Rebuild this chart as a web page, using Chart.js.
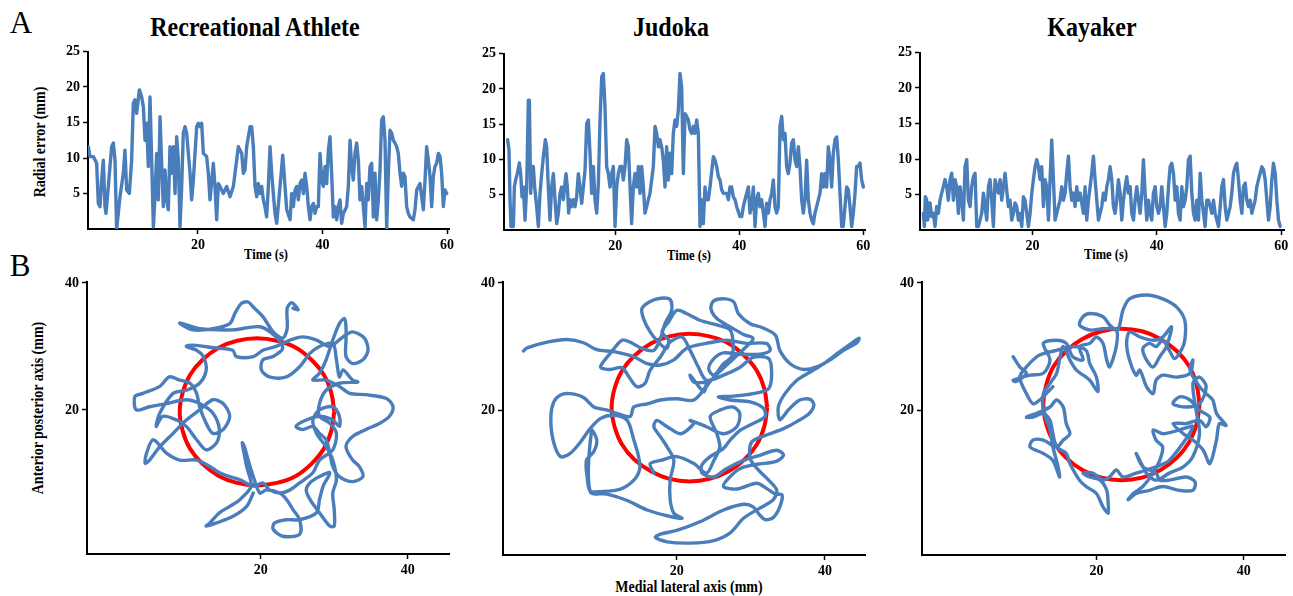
<!DOCTYPE html>
<html><head><meta charset="utf-8">
<script src="https://cdn.jsdelivr.net/npm/chart.js@4.4.1/dist/chart.umd.min.js"></script>
<style>
html,body{margin:0;padding:0;background:#fff;}
body{width:1293px;height:596px;position:relative;overflow:hidden;}
canvas{position:absolute;}
.t{position:absolute;white-space:nowrap;font-family:"Liberation Serif","Times New Roman",serif;color:#000;line-height:1;transform:translate(-50%,-50%);}
.b{font-weight:bold;}
.tt{transform:translate(-50%,-50%) scaleY(1.12);}
.rot{transform:translate(-50%,-50%) rotate(-90deg) scaleY(1.12);}
</style></head><body>
<div class="t" style="left:21px;top:22px;font-size:31px">A</div>
<div class="t" style="left:20px;top:265px;font-size:31px">B</div>
<div class="t b tt" style="left:255px;top:27px;font-size:24px">Recreational Athlete</div>
<div class="t b tt" style="left:671px;top:27px;font-size:24px">Judoka</div>
<div class="t b tt" style="left:1092px;top:27px;font-size:24px">Kayaker</div>
<div class="t b rot" style="left:41px;top:142px;font-size:14px">Radial error (mm)</div>
<div class="t b tt" style="left:266px;top:255px;font-size:12.5px">Time (s)</div>
<div class="t b tt" style="left:689px;top:256px;font-size:12.5px">Time (s)</div>
<div class="t b tt" style="left:1106px;top:255px;font-size:12.5px">Time (s)</div>
<div class="t b rot" style="left:39px;top:408px;font-size:14px">Anterior posterior axis (mm)</div>
<div class="t b tt" style="left:689px;top:588px;font-size:14px">Medial lateral axis (mm)</div>
<canvas id="c1" width="460" height="230" style="left:0;top:40px"></canvas>
<canvas id="c2" width="420" height="230" style="left:460px;top:40px"></canvas>
<canvas id="c3" width="413" height="230" style="left:880px;top:40px"></canvas>
<canvas id="c4" width="460" height="326" style="left:0;top:270px"></canvas>
<canvas id="c5" width="420" height="326" style="left:460px;top:270px"></canvas>
<canvas id="c6" width="413" height="326" style="left:880px;top:270px"></canvas>
<script>
// ---------- tick labels ----------
const timeTicks = [20, 40, 60];
const errorTicks = [5, 10, 15, 20, 25];
const posTicks = [20, 40];

// ---------- A: radial error time series ----------
const recTime = [2.38,2.65,3.19,3.72,3.99,4.26,4.52,4.79,5.06,5.22,5.60,5.86,6.13,6.40,6.67,6.93,7.20,7.47,8.00,8.27,8.54,8.97,9.34,9.61,9.88,10.15,10.58,10.95,11.22,11.49,11.75,12.02,12.29,12.56,12.83,13.09,13.36,13.63,13.90,14.16,14.43,14.70,14.97,15.23,15.50,15.77,16.04,16.31,16.57,16.84,17.11,17.38,17.64,17.91,18.18,18.72,18.98,19.25,19.79,20.05,20.32,20.59,20.86,21.39,21.66,21.93,22.46,22.73,23.00,23.27,23.53,23.80,24.07,24.61,25.14,25.68,26.21,26.48,27.02,27.29,27.55,27.82,28.36,28.62,28.89,29.16,29.43,29.69,29.96,30.23,30.50,30.76,31.03,31.30,31.57,31.84,32.10,32.37,32.64,33.18,33.61,33.98,34.25,34.79,35.05,35.32,35.59,35.86,36.12,36.39,36.66,36.93,37.19,37.46,37.73,38.00,38.26,38.53,38.80,39.06,39.33,39.60,39.87,40.13,40.40,40.67,40.94,41.20,41.47,41.74,42.01,42.28,42.54,42.81,43.08,43.35,43.88,44.15,44.42,44.69,44.95,45.22,45.49,45.76,46.02,46.29,46.83,47.10,47.36,47.63,47.90,48.17,48.43,48.70,48.97,49.24,49.50,49.77,50.04,50.31,50.58,50.84,51.11,51.38,51.65,51.91,52.18,52.45,52.72,52.99,53.25,53.52,53.79,54.06,54.59,54.86,55.13,55.66,55.93,56.20,56.47,56.73,57.00,57.27,57.54,57.80,58.07,58.34,58.61,58.88,59.14,59.41,59.68,59.95];
const recError = [11.6,10.2,10.2,9.25,3.6,3.15,6.9,9.7,3.15,2.2, 6.0,8.8,11.6,12.1,9.7,0,2.2,4.55,7.85,11.1, 5.5,5.0,9.7,17.7,18.2,16.3,19.6,18.6,17.2,12.5, 14.9,8.8,18.6,9.7,0.3,4.55,10.65,4.1,15.8,9.25, 3.15,8.3,4.1,2.7,11.6,7.85,11.6,5.0,13.0,9.7, 0.3,6.0,13.5,14.4,13.5,7.85,4.1,6.9,14.4,14.9, 14.4,14.9,10.65,10.2,7.85,4.1,9.25,6.0,1.3,6.4, 6.0,5.5,5.0,6.0,4.55,6.0,9.7,11.6,10.65,7.85, 8.3,11.6,14.4,14.4,11.6,6.0,4.55,6.4,5.0,6.0, 4.1,3.15,1.7,6.0,11.6,7.85,5.0,2.2,0.8,6.0, 10.4,6.0,2.7,1.3,5.0,3.15,5.5,6.0,4.1,6.4, 6.9,5.0,7.85,6.0,3.15,1.3,3.15,3.6,2.2,3.15, 3.15,10.65,6.9,6.0,8.8,6.4,11.1,13.0,7.85,1.7, 3.15,1.3,3.15,4.1,0.8,2.2,3.15,6.0,12.5,8.8, 6.9,10.65,12.1,9.7,4.1,6.0,0.3,6.4,4.1,8.8, 9.25,1.7,7.85,1.3,4.1,8.3,15.35,15.8,12.5,0, 7.85,13.9,13.5,12.5,12.1,11.6,10.65,7.85,6.0,7.85, 7.4,3.15,2.2,1.7,1.3,2.7,5.5,6.4,4.55,2.7, 6.9,11.6,9.7,7.4,3.15,7.4,8.8,9.25,10.65,10.2, 7.85,3.15,5.5,5.0];

const judTime = [2.63,2.85,3.01,3.17,3.55,3.71,3.92,4.19,4.52,4.73,4.95,5.16,5.43,5.70,5.97,6.13,6.34,6.56,6.77,6.99,7.31,7.58,7.85,8.12,8.39,8.71,8.92,9.19,9.46,9.73,10.00,10.27,10.54,10.81,11.08,11.34,11.61,12.04,12.26,12.47,12.69,12.96,13.23,13.49,13.76,14.03,14.30,14.57,14.84,15.11,15.38,15.65,15.91,16.18,16.45,16.72,16.99,17.26,17.53,17.80,18.06,18.33,18.60,18.87,19.14,19.41,19.68,19.95,20.22,20.48,20.75,21.02,21.29,21.56,21.83,22.10,22.37,22.63,22.90,23.17,23.44,23.71,23.98,24.25,24.52,24.78,25.05,25.32,25.59,26.13,26.40,26.67,26.94,27.20,27.47,27.74,28.01,28.28,28.55,28.82,29.09,29.35,29.62,29.89,30.16,30.43,30.70,30.97,31.24,31.51,31.77,32.04,32.31,32.58,32.85,33.12,33.39,33.66,33.92,34.19,34.46,34.73,35.00,35.27,35.81,36.08,36.34,36.61,36.88,37.15,37.42,37.96,38.23,38.49,38.76,39.03,39.30,39.57,40.11,40.38,40.65,40.91,41.18,41.45,41.72,41.99,42.26,42.53,42.80,43.06,43.33,43.60,43.87,44.14,44.41,44.68,44.95,45.22,45.48,45.75,46.02,46.29,46.56,46.83,47.10,47.37,47.63,47.90,48.17,48.44,48.71,48.98,49.25,49.52,49.78,50.05,50.32,50.59,50.86,51.13,51.40,51.67,51.94,52.20,52.47,52.74,53.01,53.28,53.55,53.82,54.09,54.35,54.62,54.89,55.16,55.43,55.70,55.97,56.24,56.51,56.77,57.04,57.31,57.58,57.85,58.12,58.39,58.66,58.92,59.19,59.46,59.73,60.00];
const judError = [12.8,11.3,4.3,0.5,0.5,6.1,7.1,8.0,9.5,8.0,4.7,6.1,1.4,6.1,18.4,18.4,5.2,8.0,9.0,6.1,3.3,0.5,5.2,8.0,10.4,12.8,11.8,6.1,1.4,6.1,8.0,4.3,0.9,2.4,5.2,6.1,4.3,8.0,6.1,2.4,4.3,3.3,4.3,3.3,4.7,8.0,6.1,3.8,6.1,8.5,15.1,15.6,10.9,5.2,9.0,4.3,2.4,6.6,15.6,21.7,22.2,17.5,9.0,8.0,6.1,8.0,9.0,0.5,6.1,8.0,9.0,9.0,7.1,9.0,12.8,11.8,6.1,0.9,6.1,8.0,6.1,9.0,5.2,9.0,6.1,2.4,3.3,4.3,5.2,9.0,14.7,13.7,11.8,12.8,11.8,9.9,6.1,11.8,7.1,10.9,8.0,13.7,15.6,14.7,17.0,22.2,20.3,8.0,16.5,16.1,15.6,14.2,13.7,14.7,13.7,15.6,13.7,0.5,4.3,0.9,6.1,4.3,4.3,6.1,10.4,9.9,9.0,7.6,7.1,5.7,5.2,5.2,4.3,6.1,6.1,4.7,4.3,3.3,1.9,1.9,3.3,4.3,5.2,6.1,2.4,3.3,6.1,0.5,4.3,5.2,3.3,4.3,2.4,0.5,3.8,2.4,4.3,5.2,7.1,3.3,2.4,3.3,14.7,16.1,12.8,13.7,9.0,8.0,9.5,12.3,12.8,9.9,9.0,11.8,9.0,4.3,2.4,4.3,9.9,4.3,2.4,1.4,0.9,2.4,3.3,4.3,5.2,8.0,6.1,8.0,6.1,11.8,9.9,6.1,10.9,12.8,13.2,9.9,5.2,0.5,0.5,3.3,6.1,5.7,3.3,0.5,2.4,5.2,9.0,9.0,9.5,7.1,6.1];

const kayTime = [2.47,2.63,2.79,3.01,3.17,3.33,3.54,3.81,4.08,4.35,4.61,4.88,5.15,5.42,5.69,5.95,6.22,6.49,6.76,7.03,7.30,7.56,7.83,8.10,8.37,8.64,8.90,9.17,9.44,9.71,9.98,10.24,10.51,10.78,11.05,11.32,11.58,11.85,12.12,12.39,12.66,12.93,13.19,13.46,13.73,14.00,14.27,14.53,14.80,15.07,15.34,15.61,15.87,16.14,16.41,16.68,16.95,17.21,17.48,17.75,18.02,18.29,18.56,18.82,19.09,19.36,19.63,19.90,20.16,20.43,20.70,20.97,21.24,21.50,21.77,22.04,22.31,22.58,22.84,23.11,23.38,23.65,23.92,24.18,24.45,24.72,24.99,25.26,25.52,25.79,26.06,26.33,26.60,26.86,27.13,27.40,27.67,28.20,28.47,28.74,29.01,29.28,29.54,29.81,30.08,30.35,30.62,30.88,31.15,31.42,31.69,31.96,32.22,32.49,32.76,33.03,33.30,33.56,33.83,34.10,34.37,34.64,34.91,35.17,35.44,35.71,35.98,36.25,36.51,36.78,37.05,37.32,37.59,37.85,38.12,38.39,38.66,38.93,39.19,39.46,39.73,40.00,40.27,40.54,40.80,41.07,41.34,41.61,41.88,42.14,42.41,42.68,42.95,43.22,43.48,43.75,44.02,44.29,44.56,44.82,45.09,45.36,45.63,45.90,46.16,46.43,46.70,46.97,47.24,47.51,47.77,48.04,48.31,48.58,48.85,49.11,49.38,49.65,49.92,50.19,50.45,50.72,50.99,51.26,51.53,51.79,52.06,52.33,52.60,52.87,53.13,53.40,53.67,53.94,54.21,54.47,54.74,55.01,55.28,55.55,55.81,56.08,56.35,56.62,56.89,57.15,57.42,57.69,57.96,58.23,58.49,58.76,59.03,59.30,59.57,59.83];
const kayError = [2.35,0.5,4.7,4.2,1.4,2.35,3.8,1.9,2.35,0.5,3.3,2.35,4.2,5.2,6.1,7.1,6.1,4.2,7.1,8.0,4.2,7.1,6.1,2.35,6.1,4.2,1.4,8.9,9.9,4.2,3.3,6.1,7.5,8.0,0.5,0.5,1.4,2.35,5.2,3.3,1.4,6.1,7.1,4.2,0.5,7.1,6.1,5.2,7.1,4.2,6.1,8.0,5.6,3.3,4.2,1.4,2.35,3.8,3.3,1.4,2.35,0.5,4.7,4.2,2.35,0.5,2.35,5.2,7.1,8.9,9.9,8.9,7.1,8.9,3.3,7.1,6.1,1.4,7.1,12.7,7.1,1.4,2.35,3.3,4.2,6.1,4.2,5.2,8.0,10.4,6.1,4.2,5.2,3.3,6.1,4.2,5.2,2.35,6.1,1.4,4.2,6.1,8.0,10.4,7.1,4.2,1.4,2.35,3.3,5.2,4.2,6.1,7.1,8.9,7.1,3.3,2.35,4.2,7.1,5.2,1.4,4.2,6.1,7.5,5.2,6.1,2.35,1.4,4.2,6.1,4.2,2.35,5.2,9.9,5.2,1.4,4.2,2.35,1.4,5.2,6.1,3.3,2.35,3.3,6.1,3.3,0.5,2.35,6.1,8.9,9.4,8.0,4.2,6.1,2.35,1.4,6.1,3.3,4.2,6.1,9.9,10.4,5.2,2.35,1.4,4.2,1.4,8.0,4.2,2.35,0.5,4.2,4.2,3.3,2.35,4.2,2.35,1.4,0.5,3.3,6.1,7.1,3.3,1.4,2.35,3.3,5.2,8.0,8.9,9.4,7.1,4.2,2.35,6.1,6.6,4.2,3.3,4.2,2.35,3.3,4.2,6.1,7.1,8.0,8.9,8.5,7.1,4.2,1.4,3.3,7.1,9.4,8.0,4.2,1.4,0.5];

// ---------- B: centre of pressure trajectories (mm) ----------
const recML = [24.4,25.1,24.2,23.6,23.6,23.0,21.7,20.3,19.0,18.3, 17.4,16.5,15.8,13.5,10.8,9.0,11.7,16.2,19.9,22.1, 23.0,21.7,20.3,20.1,21.2,23.5,25.3,26.7,28.0,29.8, 30.3,30.7,31.2,32.5,33.2,30.7,28.9,28.0,28.0,29.4, 30.3,29.8,28.0,27.1,25.3,24.0,22.6,21.2,20.3,19.0, 17.2,15.8,14.4,13.1,11.3,9.0,7.2,5.4,4.5,4.3, 4.9,6.3,8.1,9.9,11.7,13.5,14.9,15.8,14.9,13.5, 12.6,11.7,11.3,10.4,9.0,7.6,6.3,4.0,2.9,3.1, 4.9,7.2,9.9,11.7,13.5,14.4,14.0,12.6,11.3,9.9, 8.6,6.7,5.8,6.3,8.1,9.9,11.7,12.6,12.2,11.3, 9.9,10.8,13.5,16.2,16.7,19.0,20.3,22.1,24.0,25.7, 27.6,29.4,31.2,32.5,34.1,34.6,33.9,32.5,31.6,31.6, 31.6,31.4,30.7,29.8,28.9,28.0,27.1,28.9,30.7,32.1, 34.3,37.1,38.0,37.5,36.2,34.3,32.5,31.6,32.5,33.4, 33.9,32.5,30.7,29.8,29.4,28.9,28.0,27.1,25.7,24.8, 26.2,28.0,29.8,30.7,30.7,29.8,28.0,27.1,27.6,28.9, 29.8,30.3,29.8,30.0,30.0,29.4,28.0,26.7,26.2,26.7, 28.0,29.4,28.5,28.0,27.6,25.3,23.5,21.9,21.7,23.0, 25.3,25.3,24.4,23.5,22.6,20.8,19.9,19.0,18.3,17.8, 17.5,18.1,18.7,17.2,15.8,14.4,13.1,12.6,14.0,16.2, 18.1,19.0];
const recAP = [36.0,35.8,36.9,36.0,32.8,31.3,32.3,34.7,36.2,37.0, 36.8,35.2,33.6,32.8,32.6,33.7,32.8,32.6,33.1,31.5, 29.7,28.4,27.9,26.3,25.2,25.2,26.8,28.9,30.0,30.5, 27.9,25.2,26.3,24.7,24.4,24.2,23.1,21.0,19.0,17.9, 16.3,13.7,12.1,10.1,8.5,7.4,6.9,7.4,8.5,8.0, 9.0,9.5,10.1,11.1,12.1,12.1,13.2,15.3,13.2,11.6, 12.1,14.2,16.3,18.4,20.0,21.6,21.0,19.0,16.9,16.3, 17.9,20.5,22.6,24.2,24.7,25.2,23.7,22.6,22.1,20.0, 20.5,21.0,21.6,21.0,19.5,16.9,14.8,13.7,15.3,17.4, 18.4,19.0,17.4,19.5,22.6,23.1,24.2,26.3,28.4,29.4, 30.0,30.2,29.8,29.4,28.4,28.4,29.4,30.0,31.0,31.5, 31.0,30.0,31.5,32.3,31.3,29.4,27.9,27.3,28.4,31.0, 33.1,34.4,33.6,31.0,27.9,25.8,24.7,24.7,23.7,22.6, 22.4,21.8,20.5,19.0,17.9,16.9,15.8,14.2,12.1,11.1, 9.5,8.7,9.5,11.1,13.2,15.3,16.3,17.4,16.9,17.4, 18.4,19.0,18.4,17.4,19.0,20.5,20.0,18.4,16.3,14.2, 12.1,9.0,6.9,4.3,1.7,1.7,3.8,5.9,7.4,8.5, 9.5,10.1,8.0,5.9,3.8,2.7,2.7,2.2,1.2,0.1, 0.4,2.7,4.3,5.9,6.9,7.4,6.9,9.5,12.1,14.2, 14.8,11.1,8.0,5.9,4.8,3.8,2.2,1.7,2.2,3.2, 4.8,6.9];

const judML = [-0.7,-0.2,2.5,5.2,7.4,9.2,11.5,14.2,16.0,17.8, 19.6,21.3,24.0,26.7,29.4,32.1,32.6,31.2,28.5,26.3, 25.0,24.3,25.0,26.3,27.4,27.6,27.2,25.4,23.2,21.3, 20.0,18.9,18.0,18.9,18.6,17.5,16.4,15.5,15.3,16.4, 17.8,19.1,19.3,18.4,17.8,16.9,15.3,13.7,12.6,11.2, 9.7,11.0,12.6,13.5,14.6,15.7,16.4,17.8,19.1,20.7, 21.8,22.9,24.0,26.3,28.5,30.3,32.4,32.8,32.4,30.3, 27.6,25.6,27.2,29.9,31.7,31.9,30.3,28.5,27.2,26.3, 24.5,23.4,23.4,25.0,26.7,29.0,31.2,33.5,34.4,33.3, 30.8,28.5,27.0,26.3,28.1,30.8,32.1,33.3,34.2,33.9, 33.0,31.9,31.2,30.3,29.0,26.3,23.2,20.0,17.8,17.1, 18.7,21.8,25.0,27.2,29.0,31.2,33.0,33.5,32.4,31.0, 29.9,30.1,32.1,34.4,36.2,37.8,38.5,38.0,36.6,35.1, 33.9,33.7,34.6,36.2,38.0,39.8,42.0,43.8,44.6,44.3, 42.5,40.7,38.9,37.1,35.3,33.9,33.3,31.5,29.9,28.3, 27.7,26.5,25.0,24.6,25.4,27.2,29.0,30.3,29.4,25.0, 24.0,23.6,21.8,22.3,24.0,22.3,20.0,17.8,16.0,14.2, 13.7,11.9,10.6,8.8,7.4,5.6,4.3,3.4,3.0,3.3, 4.3,5.6,7.0,8.3,9.7,11.5,13.3,14.2,14.8,15.0, 14.2,12.4,9.7,8.3,7.9,7.8,8.8,9.2,8.5,8.3, 10.6,13.3,16.0,18.7,20.7,19.6,19.1,19.1,19.6,18.7, 17.8,16.9,17.3,18.7,20.5,22.3,21.8,24.0,26.3,28.1, 28.5,27.6,25.8,24.5,25.4,25.8,25.0,24.0,22.3,20.0, 17.8,16.4,16.9];
const judAP = [29.3,29.8,30.7,31.1,30.6,29.5,29.2,28.4,27.3,27.1, 27.9,29.7,30.5,31.0,30.5,30.5,29.4,28.8,28.8,29.0, 28.1,26.5,25.5,27.3,28.4,30.5,32.6,33.4,34.1,35.2, 35.7,33.9,32.3,31.0,29.7,30.7,32.3,34.4,36.0,37.1, 37.6,37.4,35.7,33.6,31.3,29.4,29.7,30.7,31.0,29.2, 26.8,26.4,26.7,25.3,23.7,24.2,26.3,28.4,30.7,31.5, 29.4,26.8,24.7,25.5,26.7,28.3,28.1,25.8,23.4,22.6, 22.2,22.1,21.6,21.3,20.3,19.0,17.9,16.8,15.3,14.0, 12.7,11.4,10.1,9.5,10.8,12.1,12.9,13.7,12.9,11.9, 11.5,10.8,9.3,8.0,7.6,8.5,7.7,6.8,6.7,4.8, 3.1,2.8,3.5,4.8,5.2,4.3,2.5,1.1,0.5,0.0, -0.7,-0.9,-0.5,0.7,3.0,4.6,5.9,7.4,9.0,10.6, 12.4,15.0,16.1,17.1,18.2,19.4,20.8,21.7,21.6,20.1, 18.5,20.5,22.6,24.7,26.0,27.3,29.2,30.7,31.3,30.6, 29.4,27.9,26.8,26.4,27.3,29.4,31.8,33.0,33.6,35.2, 37.0,37.5,37.2,36.0,34.4,33.1,31.9,31.3,30.0,25.2, 23.7,22.9,25.5,24.4,24.2,21.6,21.8,21.6,21.0,20.5, 19.0,19.5,20.0,20.5,22.0,22.6,22.4,21.3,19.0,15.3, 12.7,13.2,15.0,17.1,18.7,19.2,18.4,15.3,12.9,10.8, 9.0,7.6,7.2,7.3,9.5,12.1,13.5,15.3,16.8,7.2, 6.8,5.8,4.3,3.4,3.0,3.8,5.9,9.0,12.1,14.2, 15.8,17.4,18.4,17.4,16.3,17.9,18.4,17.4,16.3,17.4, 19.5,20.5,20.0,19.0,16.3,14.2,12.1,10.1,11.6,12.7, 12.1,11.6,10.1];

const kayML = [8.7,9.6,10.5,9.1,8.7,11.0,12.8,13.7,12.8,14.6, 15.9,16.8,18.2,17.7,19.1,20.0,20.9,21.4,21.8,22.7, 22.7,20.9,19.1,17.7,18.2,19.1,20.9,21.8,22.9,23.6, 24.5,26.8,29.0,30.9,32.0,32.0,31.5,30.6,29.9,29.0, 28.1,27.2,26.3,26.8,27.7,28.6,29.5,30.2,29.0,27.7, 25.9,24.5,24.1,24.5,25.4,25.9,26.8,27.7,28.1,29.0, 30.9,32.7,33.1,32.7,34.0,34.9,35.8,36.3,37.6,36.7, 36.3,35.4,34.5,33.1,31.8,30.4,32.2,34.0,34.9,35.4, 34.0,32.7,31.3,30.4,32.2,34.0,34.9,34.0,33.1,33.6, 34.0,33.1,31.8,29.9,28.1,26.8,25.9,25.4,26.3,28.1, 28.6,29.9,32.2,33.4,33.1,31.3,29.0,27.2,25.4,24.3, 25.0,26.3,27.7,28.6,29.0,28.1,27.7,29.0,31.3,33.1, 29.9,28.1,25.4,23.6,22.7,21.8,20.9,19.5,18.2,19.1, 20.5,21.4,21.6,21.6,20.9,20.0,18.6,17.7,16.4,15.9, 14.6,14.1,13.7,12.8,11.4,10.5,11.9,13.7,14.6,15.5, 15.9,16.4,15.5,14.6,12.8,11.4,11.0,12.8,14.1,15.0, 14.8,14.1,13.7,12.8,12.8,13.7,14.6,15.0,15.5,16.4, 17.3,19.1,20.2,20.0,19.1,18.6,16.8,14.6,12.8,11.9, 10.5,9.6,10.5,11.4,12.3,13.2,14.1];
const kayAP = [28.4,26.8,25.8,24.5,24.7,25.5,25.8,27.9,30.5,31.0, 30.5,28.4,27.9,30.0,30.5,31.5,30.5,27.9,26.8,30.0, 32.6,32.8,32.6,33.4,34.7,35.2,34.7,33.4,32.6,35.7, 37.5,38.1,37.5,36.2,34.1,31.0,29.4,28.1,29.4,31.0, 30.0,30.5,29.7,27.9,26.8,28.4,30.0,33.1,31.5,31.0, 31.5,32.3,30.5,27.9,25.5,26.3,23.7,22.6,24.7,25.5, 25.2,25.8,27.9,26.3,23.7,22.6,21.6,19.5,17.6,17.9, 15.3,11.6,13.7,15.3,16.3,17.9,17.9,18.4,17.4,18.9, 20.0,21.6,22.1,21.0,20.5,21.0,23.7,25.2,24.2,19.5, 16.3,12.7,11.1,10.1,9.0,10.1,12.1,13.2,11.1,10.1, 9.0,9.0,9.5,8.7,7.4,7.4,8.0,7.4,6.9,5.9, 6.9,8.0,10.1,12.1,14.2,15.3,16.9,16.3,16.9,17.4, 12.1,11.1,10.1,9.5,10.6,9.5,9.0,10.1,10.1,9.5, 9.0,7.4,5.3,3.8,4.8,6.9,8.0,9.0,11.6,13.2, 14.2,16.3,18.4,19.5,18.9,18.9,19.5,20.5,21.6,20.5, 17.9,16.3,15.3,14.2,15.3,15.3,14.2,13.2,12.1,9.5, 11.1,14.2,16.9,20.0,22.6,24.2,25.8,27.9,30.0,27.9, 26.3,24.7,22.9,25.2,27.3,29.4,30.0,29.4,28.9,28.4, 26.8,25.2,22.6,21.0,21.6,22.6,23.7];

// ---------- B: red target circles ----------
const recCircleX = [30.0,29.6,28.6,26.9,24.8,22.2,19.5,16.8,14.3,12.1,10.4,9.4,9.0,9.4,10.4,12.1,14.3,16.8,19.5,22.2,24.8,26.9,28.6,29.6,30.0];
const recCircleY = [19.7,22.7,25.5,27.9,29.8,30.9,31.3,30.9,29.8,27.9,25.5,22.7,19.7,16.7,13.9,11.5,9.6,8.5,8.1,8.5,9.6,11.5,13.9,16.7,19.7];
const judCircleX = [32.2,31.8,30.8,29.1,27.0,24.4,21.7,19.0,16.5,14.3,12.6,11.6,11.2,11.6,12.6,14.3,16.5,19.0,21.7,24.4,27.0,29.1,30.8,31.8,32.2];
const judCircleY = [20.4,23.4,26.2,28.6,30.5,31.6,32.0,31.6,30.5,28.6,26.2,23.4,20.4,17.4,14.6,12.2,10.4,9.2,8.8,9.2,10.4,12.2,14.6,17.4,20.4];
const kayCircleX = [34.0,33.6,32.6,30.9,28.7,26.2,23.4,20.7,18.1,15.9,14.2,13.2,12.8,13.2,14.2,15.9,18.1,20.7,23.4,26.2,28.7,30.9,32.6,33.6,34.0];
const kayCircleY = [20.9,24.0,26.9,29.3,31.2,32.4,32.8,32.4,31.2,29.3,26.9,24.0,20.9,17.8,15.0,12.5,10.6,9.4,9.0,9.4,10.6,12.5,15.0,17.8,20.9];

// ---------- drawing ----------
const FONT = '"Liberation Serif","Times New Roman",serif';
const BLUE = '#4A7EBB';
const RED = '#FF0000';

function pts(xs, ys) {
  const n = Math.min(xs.length, ys.length), a = [];
  for (let i = 0; i < n; i++) a.push({ x: xs[i], y: ys[i] });
  return a;
}
function axis(o) {
  return {
    type: 'linear', min: o.min, max: o.max,
    afterBuildTicks: s => { s.ticks = o.ticks.map(v => ({ value: v })); },
    afterFit: s => { if (o.isX) s.height = o.size; else s.width = o.size; },
    grid: { display: true, drawOnChartArea: false, drawTicks: true, tickLength: 5, tickWidth: 1.5, tickColor: '#000', color: '#000' },
    border: { display: true, color: '#000', width: 2 },
    ticks: { color: '#000', font: { family: FONT, size: 14, weight: 'bold' }, padding: 3, autoSkip: false, maxRotation: 0, callback: v => String(v) }
  };
}
function make(id, datasets, xo, yo, pad) {
  new Chart(document.getElementById(id), {
    type: 'scatter',
    data: { datasets },
    options: {
      responsive: false, animation: false, devicePixelRatio: 1,
      layout: { padding: pad },
      plugins: { legend: { display: false }, tooltip: { enabled: false } },
      scales: { x: axis(Object.assign({ isX: true }, xo)), y: axis(yo) }
    }
  });
}
function trace(xs, ys, w, tension) {
  return { data: pts(xs, ys), showLine: true, borderColor: BLUE, borderWidth: w, pointRadius: 0, tension: tension, fill: false, order: 0, borderJoinStyle: 'round', borderCapStyle: 'round' };
}
function circle(xs, ys) {
  return { data: pts(xs, ys), showLine: true, borderColor: RED, borderWidth: 4, pointRadius: 0, tension: 0.4, fill: false, order: 1 };
}

// A row
make('c1', [trace(recTime, recError, 3.4, 0)],
  { min: 2.33, max: 60.32, ticks: timeTicks, size: 41 },
  { min: 0, max: 25, ticks: errorTicks, size: 88 },
  { top: 11.5, right: 11, left: 0, bottom: 0 });
make('c2', [trace(judTime, judError, 3.4, 0)],
  { min: 2.04, max: 60.27, ticks: timeTicks, size: 40 },
  { min: 0, max: 25, ticks: errorTicks, size: 44 },
  { top: 13.7, right: 15, left: 0, bottom: 0 });
make('c3', [trace(kayTime, kayError, 3.4, 0)],
  { min: 1.93, max: 60.45, ticks: timeTicks, size: 40 },
  { min: 0, max: 25, ticks: errorTicks, size: 40 },
  { top: 12.5, right: 9, left: 0, bottom: 0 });

// B row
make('c4', [trace(recML, recAP, 3.4, 0.3), circle(recCircleX, recCircleY)],
  { min: -3.6, max: 45.6, ticks: posTicks, size: 42 },
  { min: -2.7, max: 40.15, ticks: posTicks, size: 87 },
  { top: 12, right: 11, left: 0, bottom: 0 });
make('c5', [trace(judML, judAP, 3.4, 0.3), circle(judCircleX, judCircleY)],
  { min: -3.46, max: 45.4, ticks: posTicks, size: 41 },
  { min: -2.77, max: 40.15, ticks: posTicks, size: 43 },
  { top: 12, right: 15, left: 0, bottom: 0 });
make('c6', [trace(kayML, kayAP, 3.4, 0.3), circle(kayCircleX, kayCircleY)],
  { min: -3.67, max: 45.6, ticks: posTicks, size: 41 },
  { min: -2.77, max: 40.15, ticks: posTicks, size: 42 },
  { top: 12, right: 8, left: 0, bottom: 0 });
</script>
</body></html>
